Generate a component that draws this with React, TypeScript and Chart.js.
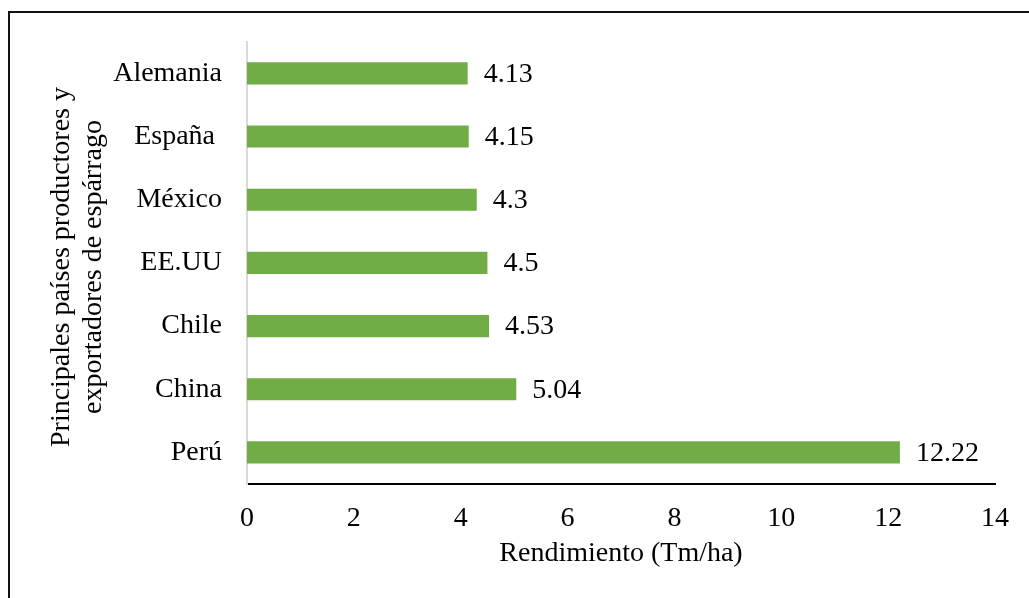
import React, { useEffect, useRef } from "react";
import { Chart, registerables } from "chart.js";

Chart.register(...registerables);

const categories = ["Alemania", "España ", "México", "EE.UU", "Chile", "China", "Perú"];
const rendimiento = [4.13, 4.15, 4.3, 4.5, 4.53, 5.04, 12.22];
const xTitle = "Rendimiento (Tm/ha)";
const yTitleLines = ["Principales países productores y", "exportadores de espárrago"];

const FONT = '"Liberation Serif", "Times New Roman", serif';
const FS = 28;

const labelsPlugin = {
  id: "customLabels",
  afterDatasetsDraw(chart: any) {
    const ctx = chart.ctx;
    const meta = chart.getDatasetMeta(0);
    ctx.save();
    ctx.font = `${FS}px ${FONT}`;
    ctx.fillStyle = "#000";
    ctx.textAlign = "left";
    ctx.textBaseline = "middle";
    meta.data.forEach((bar: any, i: number) => {
      ctx.fillText(String(rendimiento[i]), bar.x + 16, bar.y + 1);
    });
    const ca = chart.chartArea;
    ctx.textAlign = "center";
    ctx.fillText(xTitle, (ca.left + ca.right) / 2, 554);
    ctx.translate(78, 267);
    ctx.rotate(-Math.PI / 2);
    ctx.fillText(yTitleLines[0], 0, -16);
    ctx.fillText(yTitleLines[1], 0, 16);
    ctx.restore();
  },
};

export default function App() {
  const ref = useRef<HTMLCanvasElement>(null);
  useEffect(() => {
    document.body.style.overflow = "hidden";
    const chart = new Chart(ref.current!, {
      type: "bar",
      data: {
        labels: categories,
        datasets: [
          {
            data: rendimiento,
            backgroundColor: "#70AD47",
            barPercentage: 0.7,
            categoryPercentage: 0.5,
          },
        ],
      },
      options: {
        indexAxis: "y",
        animation: false,
        responsive: false,
        layout: { padding: { left: 0, top: 41, right: 34, bottom: 0 } },
        plugins: { legend: { display: false }, tooltip: { enabled: false } },
        scales: {
          x: {
            min: 0,
            max: 14,
            ticks: { stepSize: 2, color: "#000", padding: 18, font: { family: FONT, size: FS } },
            grid: { display: false, drawTicks: false },
            border: { display: true, color: "#000", width: 2 },
            afterFit: (s: any) => {
              s.height = 598 - 484;
            },
          },
          y: {
            ticks: { color: "#000", padding: 25, font: { family: FONT, size: FS } },
            grid: { display: false, drawTicks: false },
            border: { display: true, color: "#d9d9d9", width: 2 },
            afterFit: (s: any) => {
              s.width = 247;
            },
          },
        },
      },
      plugins: [labelsPlugin],
    });
    return () => chart.destroy();
  }, []);
  return (
    <div style={{ position: "fixed", left: 0, top: 0, width: 1029, height: 598, overflow: "hidden", background: "#fff" }}>
      <div
        style={{
          position: "absolute",
          left: 8,
          top: 11,
          width: 1100,
          height: 700,
          borderTop: "2px solid #111",
          borderLeft: "2px solid #111",
        }}
      />
      <canvas ref={ref} width={1029} height={598} style={{ position: "absolute", left: 0, top: 0, display: "block" }} />
    </div>
  );
}
